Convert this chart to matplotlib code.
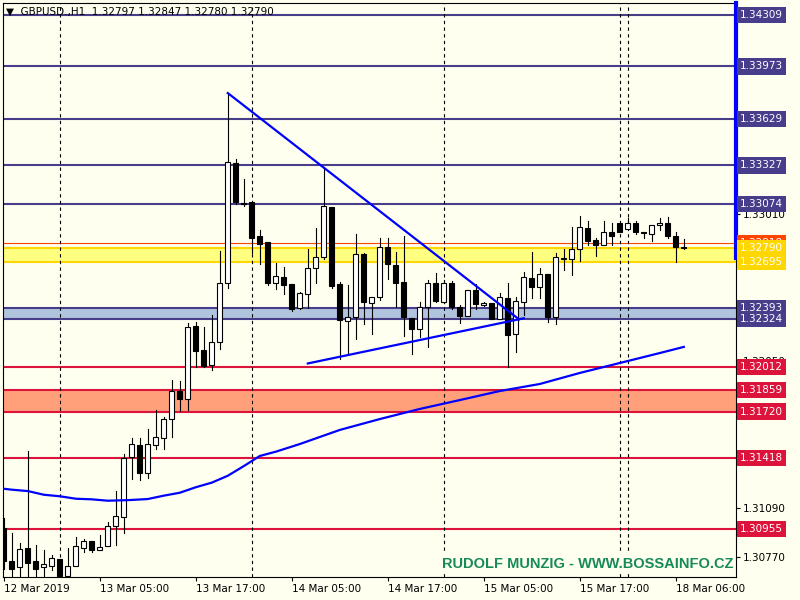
import numpy as np
import matplotlib.pyplot as plt
from matplotlib.patches import Rectangle

plt.rcParams['font.family'] = ['DejaVu Sans']

# hourly GBPUSD bars, 12 Mar 17:00 .. 18 Mar 07:00
opens = [1.30963, 1.30747, 1.30708, 1.30832, 1.30747, 1.30708, 1.30714, 1.30760, 1.30645, 1.30714,
         1.30832, 1.30878, 1.30813, 1.30845, 1.30970, 1.31029, 1.31422, 1.31500, 1.31317, 1.31500,
         1.31546, 1.31671, 1.31854, 1.31802, 1.32280, 1.32123, 1.32024, 1.32175, 1.32561, 1.33341,
         1.33079, 1.33085, 1.32863, 1.32830, 1.32561, 1.32601, 1.32555, 1.32398, 1.32489, 1.32660,
         1.32732, 1.33053, 1.32555, 1.32312, 1.32339, 1.32751, 1.32430, 1.32470, 1.32791, 1.32679,
         1.32568, 1.32332, 1.32260, 1.32404, 1.32561, 1.32437, 1.32561, 1.32404, 1.32345, 1.32516,
         1.32417, 1.32430, 1.32326, 1.32463, 1.32227, 1.32437, 1.32594, 1.32535, 1.32620, 1.32339,
         1.32719, 1.32719, 1.32778, 1.32915, 1.32843, 1.32810, 1.32895, 1.32954, 1.32909, 1.32954,
         1.32889, 1.32882, 1.32935, 1.32948, 1.32869, 1.32797]
highs = [1.31022, 1.30924, 1.30865, 1.31461, 1.30852, 1.30813, 1.30786, 1.30760, 1.30832, 1.30898,
         1.30891, 1.30878, 1.30911, 1.30996, 1.31199, 1.31441, 1.31546, 1.31546, 1.31605, 1.31730,
         1.31684, 1.31926, 1.31919, 1.32299, 1.32306, 1.32273, 1.32352, 1.32771, 1.33799, 1.33367,
         1.33236, 1.33085, 1.32902, 1.32830, 1.32692, 1.32666, 1.32555, 1.32502, 1.32778, 1.32915,
         1.33302, 1.33053, 1.32568, 1.32548, 1.32876, 1.32758, 1.32470, 1.32850, 1.32856, 1.32764,
         1.32863, 1.32332, 1.32437, 1.32581, 1.32627, 1.32581, 1.32574, 1.32417, 1.32516, 1.32555,
         1.32437, 1.32430, 1.32496, 1.32561, 1.32470, 1.32633, 1.32764, 1.32660, 1.32620, 1.32758,
         1.32784, 1.32928, 1.32994, 1.32967, 1.32850, 1.32961, 1.32948, 1.32954, 1.32981, 1.32961,
         1.32895, 1.32935, 1.32981, 1.32987, 1.32889, 1.32847]
lows = [1.30695, 1.30642, 1.30642, 1.30642, 1.30642, 1.30642, 1.30688, 1.30642, 1.30642, 1.30714,
        1.30806, 1.30806, 1.30813, 1.30845, 1.30852, 1.30924, 1.31278, 1.31271, 1.31284, 1.31474,
        1.31474, 1.31553, 1.31723, 1.31730, 1.32011, 1.32011, 1.31992, 1.32129, 1.32529, 1.33072,
        1.33065, 1.32758, 1.32686, 1.32548, 1.32522, 1.32489, 1.32378, 1.32391, 1.32398, 1.32561,
        1.32719, 1.32529, 1.32064, 1.32103, 1.32195, 1.32293, 1.32227, 1.32450, 1.32588, 1.32404,
        1.32214, 1.32096, 1.32208, 1.32142, 1.32437, 1.32430, 1.32391, 1.32299, 1.32345, 1.32391,
        1.32411, 1.32326, 1.32326, 1.32011, 1.32109, 1.32352, 1.32463, 1.32463, 1.32306, 1.32293,
        1.32647, 1.32614, 1.32705, 1.32804, 1.32738, 1.32804, 1.32804, 1.32895, 1.32902, 1.32876,
        1.32850, 1.32836, 1.32902, 1.32850, 1.32699, 1.32780]
closes = [1.30747, 1.30695, 1.30826, 1.30734, 1.30695, 1.30727, 1.30767, 1.30645, 1.30714, 1.30845,
          1.30878, 1.30813, 1.30839, 1.30970, 1.31035, 1.31415, 1.31507, 1.31317, 1.31507, 1.31553,
          1.31671, 1.31854, 1.31802, 1.32273, 1.32116, 1.32018, 1.32175, 1.32561, 1.33347, 1.33085,
          1.33072, 1.32850, 1.32817, 1.32561, 1.32607, 1.32548, 1.32391, 1.32496, 1.32660, 1.32732,
          1.33059, 1.32542, 1.32319, 1.32339, 1.32751, 1.32437, 1.32470, 1.32791, 1.32686, 1.32561,
          1.32339, 1.32260, 1.32404, 1.32561, 1.32443, 1.32561, 1.32404, 1.32345, 1.32516, 1.32424,
          1.32430, 1.32326, 1.32470, 1.32221, 1.32443, 1.32601, 1.32535, 1.32620, 1.32339, 1.32732,
          1.32722, 1.32778, 1.32922, 1.32836, 1.32810, 1.32895, 1.32863, 1.32895, 1.32948, 1.32895,
          1.32886, 1.32935, 1.32948, 1.32869, 1.32797, 1.32790]

# moving average read at some bars
ma_idx = [0, 1, 3, 5, 7, 9, 11, 13, 15, 16, 18, 20, 22, 24, 26, 28, 30, 32, 34, 37, 42, 47, 52, 57,
          62, 67, 72, 77, 82, 85]
ma_val = [1.31216, 1.31210, 1.31201, 1.31177, 1.31167, 1.31151, 1.31147, 1.31138, 1.31141, 1.31143,
          1.31149, 1.31171, 1.31190, 1.31226, 1.31256, 1.31301, 1.31364, 1.31430, 1.31458, 1.31508,
          1.31600, 1.31671, 1.31737, 1.31795, 1.31854, 1.31900, 1.31972, 1.32037, 1.32102, 1.32142]

# trend lines (bar index, price)
down_x = [28, 64.4]
down_y = [1.33799, 1.32322]
up_x = [38, 65]
up_y = [1.32034, 1.32329]

blue_levels = [1.34309, 1.33973, 1.33629, 1.33327, 1.33074]
red_levels = [1.32012, 1.31859, 1.31720, 1.31418, 1.30955]
steel_zone = [1.32393, 1.32324]
salmon_zone = [1.31859, 1.31720]
gold_zone = [1.32790, 1.32695]
bid_line = 1.32818

tick_bars = [0, 12, 24, 36, 48, 60, 72, 84]
tick_names = ['12 Mar 2019', '13 Mar 05:00', '13 Mar 17:00', '14 Mar 05:00',
              '14 Mar 17:00', '15 Mar 05:00', '15 Mar 17:00', '18 Mar 06:00']
day_breaks = [7, 31, 55, 77, 78]
price_ticks = [1.30770 + 0.0032 * i for i in range(12)]

bg = '#FFFFF0'
slate = '#483D8B'
crimson = '#DC143C'

fig = plt.figure(figsize=(8, 6), dpi=100, facecolor=bg)
ax = fig.add_axes([3 / 800, 23 / 600, 733 / 800, 574 / 600], facecolor=bg)
ax.set_xlim(-0.1, 91.525)
ax.set_ylim(1.30640, 1.34387)

# zones
ax.axhspan(steel_zone[1], steel_zone[0], color='#B0C4DE', zorder=1, lw=0)
ax.axhspan(salmon_zone[1], salmon_zone[0], color='#FFA07A', zorder=1, lw=0)
ax.axhspan(gold_zone[1], gold_zone[0], color='#FFFF80', zorder=1, lw=0)

for lv in blue_levels + steel_zone:
    ax.axhline(lv, color=slate, lw=1.5, zorder=1.5)
for lv in red_levels:
    ax.axhline(lv, color=crimson, lw=1.5, zorder=1.5)
for lv in gold_zone:
    ax.axhline(lv, color='#FFD700', lw=1.5, zorder=1.5)
ax.axhline(bid_line, color='#FF4500', lw=0.8, zorder=1.6)

for d in day_breaks:
    ax.axvline(d, color='black', lw=0.8, ls=(0, (3, 3)), zorder=1.8)

# candles
for i in range(len(opens)):
    o, h, l, c = opens[i], highs[i], lows[i], closes[i]
    ax.plot([i, i], [l, h], color='black', lw=0.8, zorder=3)
    fc = 'white' if c >= o else 'black'
    ax.add_patch(Rectangle((i - 0.32, min(o, c)), 0.64, abs(c - o),
                           facecolor=fc, edgecolor='black', lw=0.8, zorder=3.1))

ax.plot(ma_idx, ma_val, color='#0000FF', lw=1.6, zorder=4)
ax.plot(down_x, down_y, color='#0000FF', lw=1.6, zorder=4)
ax.plot(up_x, up_y, color='#0000FF', lw=1.6, zorder=4)

# axes styling
for s in ax.spines.values():
    s.set_color('black')
    s.set_linewidth(0.8)
ax.yaxis.tick_right()
ax.set_yticks(price_ticks)
ax.set_yticklabels(['%.5f' % p for p in price_ticks])
ax.set_xticks(tick_bars)
ax.set_xticklabels(tick_names)
ax.tick_params(axis='both', direction='out', length=3, width=0.8, labelsize=7.5, colors='black', pad=2)
plt.setp(ax.get_xticklabels(), ha='left')

# price labels on the right scale
trans = ax.get_yaxis_transform()
labels = [(p, slate) for p in blue_levels]
labels += [(bid_line, '#FF4500')] + [(p, '#FFD700') for p in gold_zone]
labels += [(p, slate) for p in steel_zone] + [(p, crimson) for p in red_levels]
for z, (p, col) in enumerate(labels):
    ax.text(1 + 4 / 733, p, '%.5f' % p, transform=trans, ha='left', va='center',
            fontsize=7.5, color='white', clip_on=False, zorder=10 + z,
            bbox=dict(boxstyle='square,pad=0.3', fc=col, ec='none'))

# vertical blue bar on the price scale
ax.axvline(91.525, ymin=(1.32722 - 1.30640) / (1.34387 - 1.30640), ymax=1,
           color='#0000FF', lw=3, clip_on=False, zorder=9)

fig.text(6 / 800, 1 - 12 / 600, '▼  GBPUSD.,H1  1.32797 1.32847 1.32780 1.32790',
         fontsize=7.5, color='black', va='center', ha='left')
fig.text(733 / 800, 1 - 563.5 / 600, 'RUDOLF MUNZIG - WWW.BOSSAINFO.CZ',
         fontsize=10.5, fontweight='bold', family='Liberation Sans', color='#178A5A',
         ha='right', va='center',
         bbox=dict(boxstyle='square,pad=0.15', fc=bg, ec='none'))

plt.savefig('out.png', dpi=100, facecolor=bg)
